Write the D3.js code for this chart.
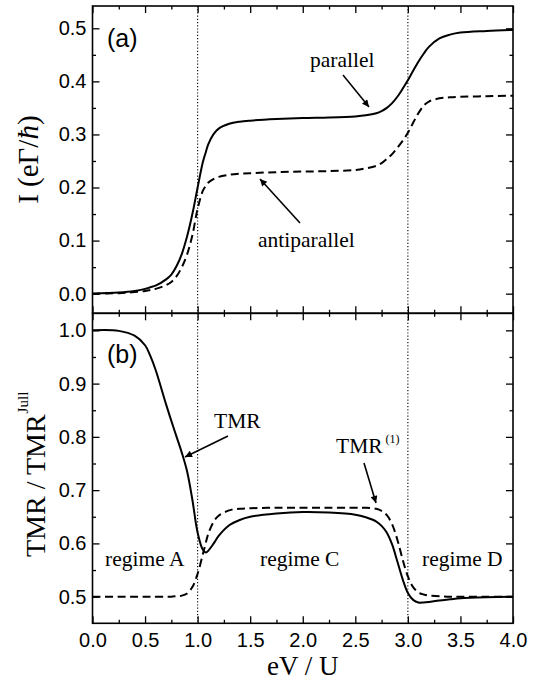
<!DOCTYPE html>
<html>
<head>
<meta charset="utf-8">
<script src="https://cdn.jsdelivr.net/npm/d3@7"></script>
<style>
  html, body { margin: 0; padding: 0; background: #fff; }
  svg { display: block; }
</style>
</head>
<body>
<svg id="chart" width="542" height="681"></svg>
<script>
// ---- data ----
const xs = [0,0.25,0.4,0.5,0.55,0.6,0.7,0.75,0.8,0.85,0.9,0.95,1.0,1.05,1.08,1.1,1.15,1.2,1.3,1.4,1.5,1.75,2.0,2.25,2.5,2.6,2.7,2.75,2.8,2.85,2.9,2.95,3.0,3.05,3.1,3.15,3.2,3.3,3.4,3.5,3.75,4.0];
const currentParallel = [0,0.002,0.005,0.009,0.012,0.015,0.027,0.036,0.052,0.075,0.108,0.150,0.200,0.248,0.268,0.281,0.300,0.311,0.320,0.324,0.326,0.329,0.331,0.332,0.334,0.336,0.340,0.344,0.350,0.359,0.371,0.386,0.402,0.420,0.437,0.452,0.465,0.481,0.488,0.492,0.495,0.497];
const currentAntiparallel = [0,0.001,0.003,0.005,0.007,0.009,0.016,0.022,0.033,0.050,0.074,0.110,0.160,0.194,0.204,0.209,0.216,0.220,0.224,0.226,0.227,0.229,0.230,0.231,0.233,0.236,0.241,0.246,0.254,0.263,0.275,0.288,0.303,0.322,0.340,0.354,0.362,0.368,0.370,0.371,0.372,0.373];
const tmr = [1.0,0.999,0.990,0.972,0.952,0.926,0.861,0.830,0.800,0.770,0.735,0.682,0.620,0.588,0.583,0.586,0.599,0.614,0.634,0.644,0.650,0.656,0.659,0.658,0.654,0.649,0.641,0.633,0.620,0.598,0.566,0.533,0.507,0.494,0.489,0.489,0.490,0.493,0.495,0.497,0.499,0.500];
const tmr1 = [0.5,0.5,0.5,0.5,0.5,0.5,0.5,0.5,0.501,0.502,0.506,0.518,0.543,0.580,0.603,0.617,0.640,0.652,0.662,0.665,0.666,0.667,0.667,0.667,0.667,0.667,0.665,0.661,0.653,0.636,0.607,0.570,0.538,0.518,0.508,0.504,0.502,0.501,0.500,0.500,0.500,0.500];

const xMajor = [0,0.5,1.0,1.5,2.0,2.5,3.0,3.5,4.0];
const xMinor = [0.25,0.75,1.25,1.75,2.25,2.75,3.25,3.75];
const yTopMajor = [0,0.1,0.2,0.3,0.4,0.5];
const yTopMinor = [0.05,0.15,0.25,0.35,0.45];
const yBotMajor = [0.5,0.6,0.7,0.8,0.9,1.0];
const yBotMinor = [0.55,0.65,0.75,0.85,0.95];
const vLines = [1.0, 3.0];

// ---- layout ----
const L = 92.5, R = 513, T = 6, M = 313.3, B = 623.3;
const svg = d3.select("#chart");

const x = d3.scaleLinear().domain([0,4]).range([L,R]);
const yTop = d3.scaleLinear().domain([-0.037,0.542]).range([M,T]);
const yBot = d3.scaleLinear().domain([0.450,1.032]).range([B,M]);

const sans = "'Liberation Sans', Arial, Helvetica, sans-serif";
const serif = "'Liberation Serif', 'Times New Roman', Times, serif";

// dotted vertical lines
svg.selectAll("line.v").data(vLines).enter().append("line")
  .attr("x1", d => x(d)).attr("x2", d => x(d))
  .attr("y1", T).attr("y2", B)
  .attr("stroke", "#000").attr("stroke-width", 1.1)
  .attr("stroke-dasharray", "1.2,2");

// curves
function drawLine(yScale, ys, dashed) {
  const line = d3.line().x((d,i) => x(xs[i])).y(d => yScale(d)).curve(d3.curveCatmullRom.alpha(0.5));
  svg.append("path").datum(ys).attr("d", line)
    .attr("fill", "none").attr("stroke", "#000")
    .attr("stroke-width", 2)
    .attr("stroke-dasharray", dashed ? "8,4.5" : null);
}
drawLine(yTop, currentParallel, false);
drawLine(yTop, currentAntiparallel, true);
drawLine(yBot, tmr, false);
drawLine(yBot, tmr1, true);

// axes helpers
function tickAxis(axisFn, scale, vals, size, transform) {
  const g = svg.append("g").attr("transform", transform)
    .call(axisFn(scale).tickValues(vals).tickSize(-size).tickFormat(""));
  g.select(".domain").remove();
  g.selectAll("line").attr("stroke", "#000").attr("stroke-width", 1.3);
  return g;
}
[[d3.axisTop, T],[d3.axisBottom, M],[d3.axisTop, M],[d3.axisBottom, B]].forEach(([fn, yy]) => {
  tickAxis(fn, x, xMajor, 7, `translate(0,${yy})`);
  tickAxis(fn, x, xMinor, 3.5, `translate(0,${yy})`);
});
[[yTop, yTopMajor, yTopMinor],[yBot, yBotMajor, yBotMinor]].forEach(([s, maj, min]) => {
  tickAxis(d3.axisLeft, s, maj, 7, `translate(${L},0)`);
  tickAxis(d3.axisLeft, s, min, 3.5, `translate(${L},0)`);
  tickAxis(d3.axisRight, s, maj, 7, `translate(${R},0)`);
  tickAxis(d3.axisRight, s, min, 3.5, `translate(${R},0)`);
});

// tick labels
function labelAxis(axis, transform) {
  const g = svg.append("g").attr("transform", transform).call(axis);
  g.select(".domain").remove();
  g.selectAll("line").remove();
  g.selectAll("text").attr("font-family", sans).attr("font-size", 20).attr("fill", "#000");
}
labelAxis(d3.axisBottom(x).tickValues(xMajor).tickSize(0).tickPadding(10).tickFormat(d3.format(".1f")), `translate(0,${B})`);
labelAxis(d3.axisLeft(yTop).tickValues(yTopMajor).tickSize(0).tickPadding(6).tickFormat(d3.format(".1f")), `translate(${L},0)`);
labelAxis(d3.axisLeft(yBot).tickValues(yBotMajor).tickSize(0).tickPadding(6).tickFormat(d3.format(".1f")), `translate(${L},0)`);

// frames
svg.append("rect").attr("x", L).attr("y", T).attr("width", R-L).attr("height", M-T)
  .attr("fill", "none").attr("stroke", "#000").attr("stroke-width", 1.6);
svg.append("rect").attr("x", L).attr("y", M).attr("width", R-L).attr("height", B-M)
  .attr("fill", "none").attr("stroke", "#000").attr("stroke-width", 1.6);

// axis titles
svg.append("text").attr("x", (L+R)/2).attr("y", 675)
  .attr("text-anchor", "middle").attr("font-family", serif).attr("font-size", 27)
  .text("eV / U");

const t1 = svg.append("text").attr("transform", `translate(38,${(T+M)/2}) rotate(-90)`)
  .attr("text-anchor", "middle").attr("font-family", serif).attr("font-size", 29);
t1.append("tspan").text("I (eΓ/");
t1.append("tspan").attr("font-style", "italic").text("ħ");
t1.append("tspan").text(")");

const t2 = svg.append("text").attr("transform", `translate(45,557) rotate(-90)`)
  .attr("text-anchor", "start").attr("font-family", serif).attr("font-size", 28);
t2.append("tspan").text("TMR / TMR");
t2.append("tspan").attr("font-size", 15).attr("dy", -17).attr("dx", 1).text("Jull");

// panel labels
svg.append("text").attr("x", 107).attr("y", 47).attr("font-family", sans).attr("font-size", 25).text("(a)");
svg.append("text").attr("x", 107).attr("y", 363).attr("font-family", sans).attr("font-size", 25).text("(b)");

// annotations
const ann = [
  {t: "parallel", x: 310, y: 67},
  {t: "antiparallel", x: 258, y: 247},
  {t: "TMR", x: 214, y: 428},
  {t: "regime A", x: 105, y: 566},
  {t: "regime C", x: 260, y: 566},
  {t: "regime D", x: 422, y: 566}
];
svg.selectAll("text.ann").data(ann).enter().append("text")
  .attr("x", d => d.x).attr("y", d => d.y)
  .attr("font-family", serif).attr("font-size", 21.5).text(d => d.t);

const tmr1Label = svg.append("text").attr("x", 336).attr("y", 453)
  .attr("font-family", serif).attr("font-size", 21.5);
tmr1Label.append("tspan").text("TMR");
tmr1Label.append("tspan").attr("font-size", 12).attr("dy", -10).attr("dx", 3).text("(1)");

// arrows
svg.append("defs").append("marker").attr("id", "ah")
  .attr("viewBox", "0 0 10 10").attr("refX", 10).attr("refY", 5)
  .attr("markerWidth", 9).attr("markerHeight", 7).attr("markerUnits", "userSpaceOnUse")
  .attr("orient", "auto")
  .append("path").attr("d", "M0,0 L10,5 L0,10 z").attr("fill", "#000");

const arrows = [
  [343, 75, 369, 107],
  [300, 223, 260, 179],
  [228, 436, 185, 457],
  [364, 463, 376, 503]
];
svg.selectAll("line.arrow").data(arrows).enter().append("line")
  .attr("x1", d => d[0]).attr("y1", d => d[1]).attr("x2", d => d[2]).attr("y2", d => d[3])
  .attr("stroke", "#000").attr("stroke-width", 1.6).attr("marker-end", "url(#ah)");
</script>
</body>
</html>
